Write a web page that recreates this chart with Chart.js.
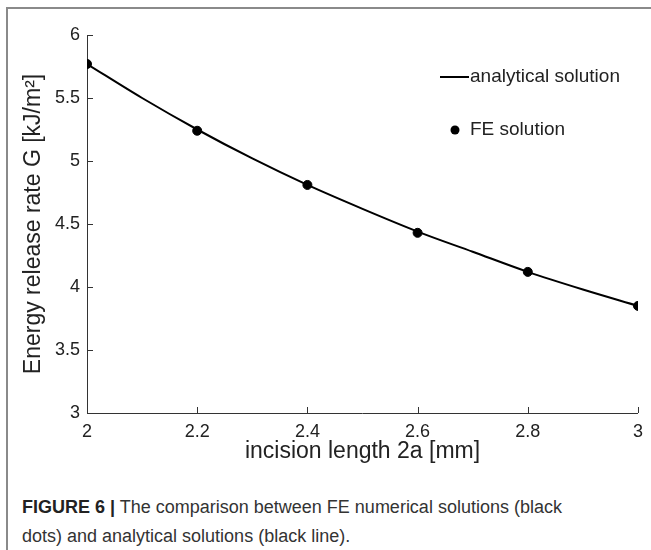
<!DOCTYPE html>
<html>
<head>
<meta charset="utf-8">
<script src="https://cdn.jsdelivr.net/npm/chart.js@4.4.1/dist/chart.umd.min.js"></script>
<style>
  html, body { margin: 0; padding: 0; background: #fff; }
  #wrap { position: relative; width: 651px; height: 550px; overflow: hidden; }
  #frame { position: absolute; left: 6px; top: 7px; width: 660px; height: 600px;
    border-left: 2px solid #8a8a8a; border-top: 2px solid #8a8a8a; }
  #chart { position: absolute; left: 0; top: 0; }
  #caption { position: absolute; left: 22px; top: 493px; width: 625px;
    font-family: "Liberation Sans", Arial, sans-serif; font-size: 18px; line-height: 29px; color: #333; }
  #caption b { color: #222; }
</style>
</head>
<body>
<div id="wrap">
  <div id="frame"></div>
  <canvas id="chart" width="651" height="475"></canvas>
  <div id="caption"><b>FIGURE 6 |</b> The comparison between FE numerical solutions (black<br>dots) and analytical solutions (black line).</div>
</div>
<script>
// данные
const feX = [2.0, 2.2, 2.4, 2.6, 2.8, 3.0];
const feG = [5.77, 5.24, 4.81, 4.43, 4.12, 3.85];
const curveX = [2.0, 2.1, 2.2, 2.3, 2.4, 2.5, 2.6, 2.7, 2.8, 2.9, 3.0];
const curveG = [5.77, 5.50, 5.25, 5.02, 4.81, 4.62, 4.44, 4.28, 4.12, 3.98, 3.85];
const xTicks = [2, 2.2, 2.4, 2.6, 2.8, 3];
const yTicks = [3, 3.5, 4, 4.5, 5, 5.5, 6];

const FONT = '"Liberation Sans", Arial, sans-serif';
const axisColor = '#333';

// тики внутрь, как в matlab
const innerTicks = {
  id: 'innerTicks',
  afterDraw(chart) {
    const { ctx, scales: { x, y } } = chart;
    ctx.save();
    ctx.strokeStyle = axisColor;
    ctx.lineWidth = 1;
    ctx.beginPath();
    xTicks.forEach(v => {
      const px = Math.round(x.getPixelForValue(v)) + 0.5;
      ctx.moveTo(px, y.bottom);
      ctx.lineTo(px, y.bottom - 6);
    });
    yTicks.forEach(v => {
      const py = Math.round(y.getPixelForValue(v)) + 0.5;
      ctx.moveTo(x.left, py);
      ctx.lineTo(x.left + 6, py);
    });
    ctx.stroke();
    ctx.restore();
  }
};

// легенда в углу
const cornerLegend = {
  id: 'cornerLegend',
  afterDraw(chart) {
    const { ctx } = chart;
    ctx.save();
    ctx.font = '19px ' + FONT;
    ctx.fillStyle = '#222';
    ctx.textBaseline = 'middle';
    ctx.strokeStyle = '#000';
    ctx.lineWidth = 2;
    ctx.beginPath();
    ctx.moveTo(440, 77);
    ctx.lineTo(469, 77);
    ctx.stroke();
    ctx.fillText('analytical solution', 470, 77);
    ctx.beginPath();
    ctx.arc(455, 130, 4.5, 0, Math.PI * 2);
    ctx.fillStyle = '#000';
    ctx.fill();
    ctx.fillStyle = '#222';
    ctx.fillText('FE solution', 470, 130);
    ctx.restore();
  }
};

new Chart(document.getElementById('chart'), {
  type: 'scatter',
  data: {
    datasets: [
      {
        label: 'analytical solution',
        data: curveX.map((v, i) => ({ x: v, y: curveG[i] })),
        showLine: true,
        borderColor: '#000',
        borderWidth: 2,
        pointRadius: 0,
        cubicInterpolationMode: 'monotone'
      },
      {
        label: 'FE solution',
        data: feX.map((v, i) => ({ x: v, y: feG[i] })),
        showLine: false,
        backgroundColor: '#000',
        borderColor: '#000',
        pointRadius: 4.5
      }
    ]
  },
  plugins: [innerTicks, cornerLegend],
  options: {
    responsive: false,
    animation: false,
    layout: { padding: { left: 0, top: 35, right: 9, bottom: 0 } },
    plugins: { legend: { display: false }, tooltip: { enabled: false } },
    scales: {
      x: {
        type: 'linear', min: 2, max: 3,
        afterBuildTicks: s => { s.ticks = xTicks.map(v => ({ value: v })); },
        afterFit: s => { s.height = 62; },
        grid: { display: false, drawTicks: false },
        border: { color: axisColor, width: 1 },
        ticks: { padding: 8, color: '#222', font: { family: FONT, size: 18 }, callback: v => String(v) },
        title: { display: true, text: 'incision length 2a [mm]', color: '#222',
          font: { family: FONT, size: 23 }, padding: { top: 0, bottom: 10 } }
      },
      y: {
        type: 'linear', min: 3, max: 6,
        afterBuildTicks: s => { s.ticks = yTicks.map(v => ({ value: v })); },
        afterFit: s => { s.width = 87; },
        grid: { display: false, drawTicks: false },
        border: { color: axisColor, width: 1 },
        ticks: { padding: 7, color: '#222', font: { family: FONT, size: 18 }, callback: v => String(v) },
        title: { display: true, text: 'Energy release rate G [kJ/m²]', color: '#222',
          font: { family: FONT, size: 23 }, padding: { top: 20, bottom: 0 } }
      }
    }
  }
});
</script>
</body>
</html>
